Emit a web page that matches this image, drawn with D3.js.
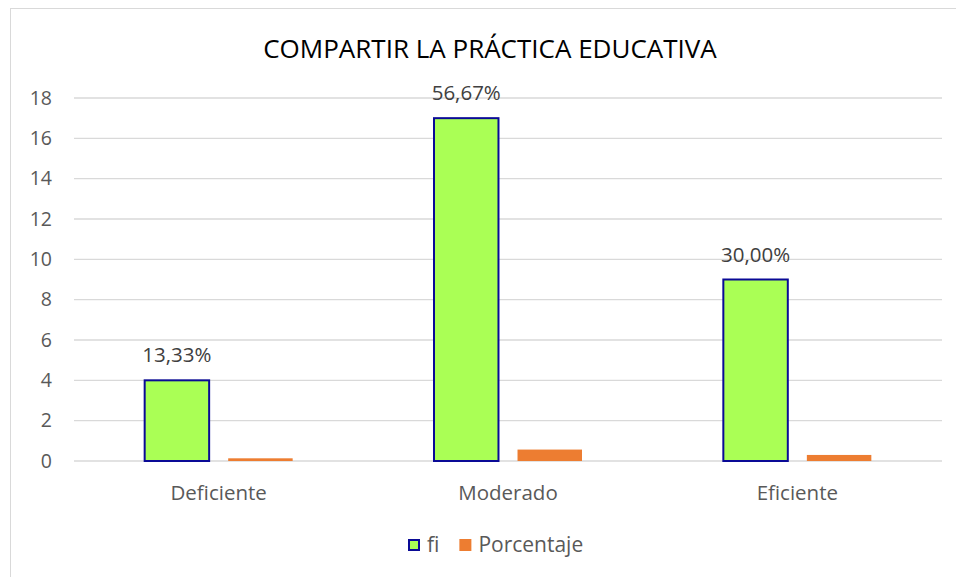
<!DOCTYPE html>
<html>
<head>
<meta charset="utf-8">
<script src="https://cdn.jsdelivr.net/npm/d3@7"></script>
<style>
  body { margin: 0; background: #fff; }
  svg { font-family: "Open Sans", "Noto Sans", sans-serif; }
</style>
</head>
<body>
<svg id="chart" width="956" height="577"></svg>
<script>
const categories = ["Deficiente", "Moderado", "Eficiente"];
const series = ["fi", "Porcentaje"];
const fiValues = [4, 17, 9];
const pctValues = [0.1333, 0.5667, 0.30];
const pctLabels = ["13,33%", "56,67%", "30,00%"];
const yTicks = [0, 2, 4, 6, 8, 10, 12, 14, 16, 18];

const colors = { fi: "#aaff55", Porcentaje: "#ed7d31" };

const svg = d3.select("#chart");

// chart frame (left and top edges visible)
svg.append("rect")
    .attr("x", 10.5).attr("y", 8.5)
    .attr("width", 1000).attr("height", 600)
    .attr("fill", "none")
    .attr("stroke", "#d9d9d9");

const margin = { left: 74, right: 14, top: 98, bottom: 116 };
const width = 956 - margin.left - margin.right;
const height = 577 - margin.top - margin.bottom;

const g = svg.append("g")
    .attr("transform", `translate(${margin.left},${margin.top})`);

const x = d3.scaleBand()
    .domain(categories)
    .range([0, width]);

const xInner = d3.scaleBand()
    .domain(series)
    .range([0, 148])
    .paddingInner(0.228);

const y = d3.scaleLinear()
    .domain([0, 18])
    .range([height, 0]);

// gridlines
g.selectAll("line.grid")
    .data(yTicks)
    .join("line")
    .attr("class", "grid")
    .attr("x1", 0).attr("x2", width)
    .attr("y1", d => y(d)).attr("y2", d => y(d))
    .attr("stroke", "#d9d9d9")
    .attr("stroke-width", 1.3);

// y axis labels
g.selectAll("text.ytick")
    .data(yTicks)
    .join("text")
    .attr("class", "ytick")
    .attr("x", -22)
    .attr("y", d => y(d))
    .attr("dy", "0.35em")
    .attr("text-anchor", "end")
    .attr("font-size", "19.5px")
    .attr("fill", "#595959")
    .text(d => d);

const rows = categories.map((c, i) => ({ cat: c, fi: fiValues[i], Porcentaje: pctValues[i], label: pctLabels[i] }));

const groups = g.selectAll("g.cat")
    .data(rows)
    .join("g")
    .attr("class", "cat")
    .attr("transform", d => `translate(${x(d.cat) + (x.bandwidth() - 148) / 2},0)`);

groups.append("rect")
    .attr("x", xInner("Porcentaje"))
    .attr("y", d => y(d.Porcentaje))
    .attr("width", xInner.bandwidth())
    .attr("height", d => y(0) - y(d.Porcentaje))
    .attr("fill", colors.Porcentaje);

groups.append("rect")
    .attr("x", xInner("fi"))
    .attr("y", d => y(d.fi))
    .attr("width", xInner.bandwidth())
    .attr("height", d => y(0) - y(d.fi))
    .attr("fill", colors.fi)
    .attr("stroke", "#0a0a96")
    .attr("stroke-width", 2);

groups.append("text")
    .attr("x", xInner("fi") + xInner.bandwidth() / 2)
    .attr("y", d => y(d.fi) - 18)
    .attr("text-anchor", "middle")
    .attr("font-size", "20.5px")
    .attr("fill", "#404040")
    .text(d => d.label);

// x axis labels
g.selectAll("text.xtick")
    .data(categories)
    .join("text")
    .attr("class", "xtick")
    .attr("x", d => x(d) + x.bandwidth() / 2)
    .attr("y", height + 39)
    .attr("text-anchor", "middle")
    .attr("font-size", "20.5px")
    .attr("fill", "#595959")
    .text(d => d);

// title
svg.append("text")
    .attr("x", 490)
    .attr("y", 58)
    .attr("text-anchor", "middle")
    .attr("font-size", "26px")
    .attr("fill", "#000")
    .text("COMPARTIR LA PRÁCTICA EDUCATIVA");

// legend
const legend = svg.append("g").attr("transform", "translate(408,539)");
let xOffset = 0;
series.forEach(s => {
    const lg = legend.append("g").attr("transform", `translate(${xOffset},0)`);
    lg.append("rect")
        .attr("x", s === "fi" ? 1 : 0).attr("y", s === "fi" ? 1 : 0)
        .attr("width", s === "fi" ? 10 : 12)
        .attr("height", s === "fi" ? 10 : 12)
        .attr("fill", colors[s])
        .attr("stroke", s === "fi" ? "#0a0a96" : "none")
        .attr("stroke-width", 2);
    const t = lg.append("text")
        .attr("x", 19)
        .attr("y", 6)
        .attr("dy", "0.35em")
        .attr("font-size", "21px")
        .attr("fill", "#595959")
        .text(s);
    xOffset += 19 + t.node().getComputedTextLength() + 20;
});
</script>
</body>
</html>
